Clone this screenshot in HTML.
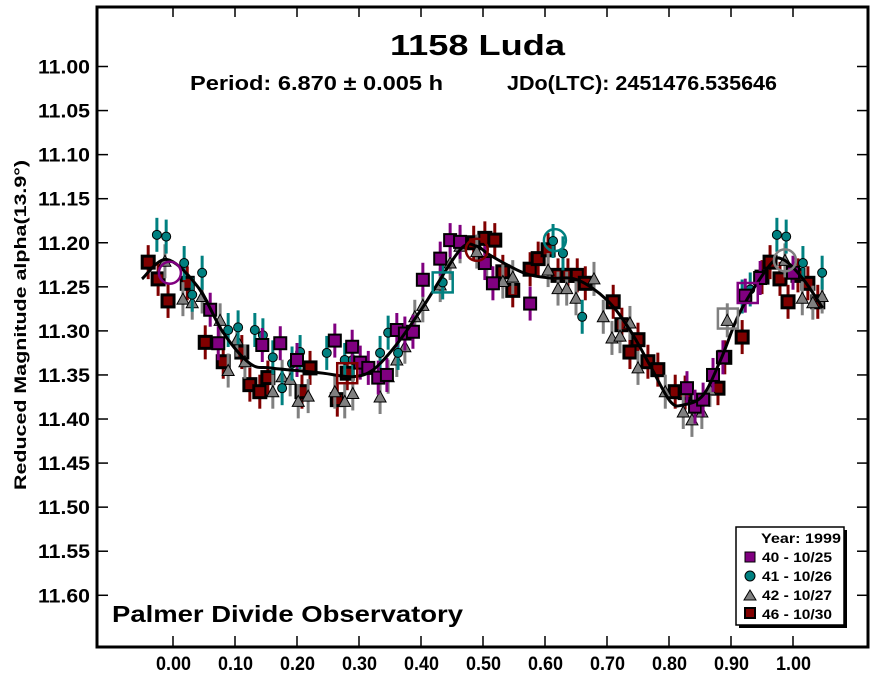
<!DOCTYPE html>
<html><head><meta charset="utf-8"><style>
body{margin:0;background:#fff}
svg{display:block;font-family:"Liberation Sans",Arial,sans-serif;font-weight:bold}
</style></head><body>
<svg id="c" width="883" height="679" viewBox="0 0 883 679">
<rect x="0" y="0" width="883" height="679" fill="#fff"/>
<g id="marks"></g>
<rect x="97" y="7" width="771" height="640" fill="none" stroke="#000" stroke-width="3"/>
<g id="axes"></g>
<text x="390" y="55" font-size="29" textLength="175" lengthAdjust="spacingAndGlyphs">1158 Luda</text>
<text x="190" y="90" font-size="20" textLength="253" lengthAdjust="spacingAndGlyphs">Period: 6.870 ± 0.005 h</text>
<text x="507" y="90" font-size="20" textLength="270" lengthAdjust="spacingAndGlyphs">JDo(LTC): 2451476.535646</text>
<text transform="translate(26,490) rotate(-90)" font-size="17" textLength="330" lengthAdjust="spacingAndGlyphs">Reduced Magnitude alpha(13.9°)</text>
<text x="112" y="622" font-size="23" textLength="351" lengthAdjust="spacingAndGlyphs">Palmer Divide Observatory</text>
<g>
<rect x="739" y="530" width="108" height="98" fill="#000"/>
<rect x="736" y="527" width="108" height="98" fill="#fff" stroke="#000" stroke-width="1.5"/>
<text x="761" y="543" font-size="14" textLength="80" lengthAdjust="spacingAndGlyphs">Year: 1999</text>
<rect x="745" y="552" width="10" height="10" fill="#800080" stroke="#000"/>
<text x="762" y="562" font-size="14" textLength="70" lengthAdjust="spacingAndGlyphs">40 - 10/25</text>
<circle cx="750" cy="576" r="5" fill="#008080" stroke="#000"/>
<text x="762" y="581" font-size="14" textLength="70" lengthAdjust="spacingAndGlyphs">41 - 10/26</text>
<polygon points="750,590 756,600 744,600" fill="#808080" stroke="#000"/>
<text x="762" y="600" font-size="14" textLength="70" lengthAdjust="spacingAndGlyphs">42 - 10/27</text>
<rect x="745" y="608" width="10" height="10" fill="#800000" stroke="#000" stroke-width="2"/>
<text x="762" y="619" font-size="14" textLength="70" lengthAdjust="spacingAndGlyphs">46 - 10/30</text>
</g>
</svg>
<script>
const xTicks=[0,0.1,0.2,0.3,0.4,0.5,0.6,0.7,0.8,0.9,1.0];
const yTicks=[11.00,11.05,11.10,11.15,11.20,11.25,11.30,11.35,11.40,11.45,11.50,11.55,11.60];
const s40Phase=[0.060,0.073,0.144,0.173,0.200,0.261,0.289,0.302,0.315,0.331,0.345,0.361,0.374,0.387,0.403,0.431,0.447,0.463,0.503,0.516,0.576,0.829,0.842,0.855,0.871,0.887,0.923,0.947,1.000];
const s40Mag=[11.276,11.314,11.316,11.314,11.333,11.311,11.318,11.336,11.342,11.353,11.350,11.299,11.303,11.301,11.242,11.218,11.197,11.199,11.223,11.246,11.269,11.365,11.386,11.378,11.350,11.330,11.260,11.240,11.234];
const s41Phase=[-0.026,-0.011,0.018,0.047,0.031,0.089,0.105,0.132,0.145,0.161,0.176,0.192,0.205,0.248,0.277,0.290,0.334,0.347,0.363,0.435,0.613,0.629,0.660,0.918,0.931,0.974,0.989,1.016,1.047];
const s41Mag=[11.191,11.193,11.223,11.234,11.259,11.299,11.296,11.299,11.305,11.330,11.365,11.337,11.324,11.325,11.333,11.333,11.325,11.302,11.325,11.245,11.198,11.212,11.284,11.261,11.253,11.191,11.193,11.223,11.234];
const s42Phase=[-0.013,0.016,0.031,0.047,0.076,0.089,0.103,0.116,0.161,0.176,0.189,0.202,0.218,0.261,0.277,0.290,0.334,0.347,0.361,0.374,0.390,0.403,0.431,0.447,0.463,0.490,0.506,0.532,0.548,0.605,0.621,0.635,0.650,0.679,0.694,0.708,0.721,0.737,0.750,0.794,0.823,0.837,0.853,0.866,0.894,0.987,1.015,1.032,1.047];
const s42Mag=[11.221,11.264,11.268,11.261,11.288,11.345,11.310,11.335,11.369,11.352,11.355,11.380,11.374,11.369,11.380,11.371,11.375,11.352,11.333,11.318,11.284,11.271,11.248,11.223,11.204,11.210,11.223,11.244,11.239,11.231,11.252,11.252,11.263,11.241,11.284,11.308,11.306,11.291,11.342,11.369,11.392,11.401,11.392,11.367,11.288,11.220,11.263,11.268,11.261];
const s46Phase=[-0.040,-0.024,-0.008,0.023,0.052,0.081,0.111,0.124,0.140,0.153,0.208,0.221,0.265,0.281,0.485,0.503,0.519,0.532,0.548,0.576,0.589,0.605,0.621,0.637,0.652,0.665,0.710,0.724,0.737,0.750,0.766,0.782,0.810,0.826,0.879,0.890,0.918,0.950,0.963,0.979,0.992,1.008,1.024,1.040];
const s46Mag=[11.222,11.241,11.266,11.246,11.313,11.335,11.324,11.361,11.369,11.353,11.369,11.342,11.378,11.348,11.200,11.195,11.197,11.233,11.254,11.230,11.218,11.208,11.237,11.237,11.237,11.246,11.267,11.293,11.324,11.310,11.335,11.344,11.369,11.370,11.365,11.330,11.307,11.239,11.222,11.241,11.267,11.237,11.246,11.267];
const fitPhase=[-0.05,-0.01,0.04,0.081,0.124,0.156,0.20,0.242,0.29,0.323,0.36,0.403,0.463,0.49,0.511,0.565,0.608,0.652,0.70,0.737,0.77,0.802,0.823,0.855,0.885,0.915,0.963,0.984,1.015,1.048];
const fitMag=[11.241,11.219,11.250,11.302,11.337,11.342,11.345,11.348,11.352,11.344,11.316,11.273,11.208,11.204,11.214,11.234,11.240,11.242,11.265,11.299,11.340,11.380,11.384,11.373,11.330,11.278,11.225,11.219,11.240,11.274];
const openPhase=[-0.005,0.281,0.435,0.490,0.616,0.895,0.927,0.987];
const openMag=[11.234,11.348,11.245,11.208,11.197,11.286,11.257,11.220];
const openShape=['circle','square','square','circle','circle','square','square','circle'];
const openColor=['#800080','#800000','#008080','#800000','#008080','#808080','#800080','#808080'];

const X=p=>173+p*620;
const Y=m=>66.5+(m-11)*881.3;
const NS='http://www.w3.org/2000/svg';
const marks=document.getElementById('marks'), axes=document.getElementById('axes');
function mk(tag,attrs,parent){const e=document.createElementNS(NS,tag);for(const k in attrs)e.setAttribute(k,attrs[k]);parent.appendChild(e);return e;}

xTicks.forEach(t=>{
  const x=X(t);
  const a=mk('line',{x1:x,x2:x,y1:647,y2:636,stroke:'#000','stroke-width':1.5},axes);
  
  
  const b=mk('line',{x1:x,x2:x,y1:7,y2:17,stroke:'#000','stroke-width':1.5},axes);
  
  
  const l=mk('text',{x:x-17,y:670,'font-size':19,textLength:35,lengthAdjust:'spacingAndGlyphs'},axes);
  l.textContent=t.toFixed(2);
  
  
});
yTicks.forEach(t=>{
  const y=Y(t);
  const a=mk('line',{x1:97,x2:108,y1:y,y2:y,stroke:'#000','stroke-width':1.5},axes);
  
  
  const b=mk('line',{x1:857,x2:868,y1:y,y2:y,stroke:'#000','stroke-width':1.5},axes);
  
  
  const l=mk('text',{x:38,y:y+7,'font-size':19,textLength:52,lengthAdjust:'spacingAndGlyphs'},axes);
  l.textContent=t.toFixed(2);
  
  
});

function series(ph,mg,color,shape,name){
  const g=mk('g',{},marks);
  
  
  ph.forEach((p,i)=>{
    const x=X(p),y=Y(mg[i]);
    const e=mk('line',{x1:x,x2:x,y1:y-17,y2:y+17,stroke:color,'stroke-width':3},g);
    
    
    let m;
    if(shape==='square') m=mk('rect',{x:x-6,y:y-6,width:12,height:12,fill:color,stroke:'#000','stroke-width':2},g);
    else if(shape==='dsquare') m=mk('rect',{x:x-6,y:y-6,width:12,height:12,fill:color,stroke:'#000','stroke-width':3},g);
    else if(shape==='circle') m=mk('circle',{cx:x,cy:y,r:4.5,fill:color,stroke:'#000','stroke-width':1},g);
    else m=mk('polygon',{points:`${x},${y-6} ${x+6},${y+5} ${x-6},${y+5}`,fill:color,stroke:'#000','stroke-width':1},g);
    
    
  });
}
series(s46Phase,s46Mag,'#800000','dsquare','series-46');
series(s42Phase,s42Mag,'#808080','tri','series-42');
series(s41Phase,s41Mag,'#008080','circle','series-41');
series(s40Phase,s40Mag,'#800080','square','series-40');

const pts=fitPhase.map((p,i)=>[X(p),Y(fitMag[i])]);
let d=`M${pts[0][0]},${pts[0][1]}`;
for(let i=0;i<pts.length-1;i++){
  const p0=pts[Math.max(0,i-1)],p1=pts[i],p2=pts[i+1],p3=pts[Math.min(pts.length-1,i+2)];
  const c1=[p1[0]+(p2[0]-p0[0])/6,p1[1]+(p2[1]-p0[1])/6];
  const c2=[p2[0]-(p3[0]-p1[0])/6,p2[1]-(p3[1]-p1[1])/6];
  d+=` C${c1[0]},${c1[1]} ${c2[0]},${c2[1]} ${p2[0]},${p2[1]}`;
}
const fc=mk('path',{d:d,fill:'none',stroke:'#000','stroke-width':3},marks);



openPhase.forEach((p,i)=>{
  const x=X(p),y=Y(openMag[i]);
  let m;
  if(openShape[i]==='circle') m=mk('circle',{cx:x,cy:y,r:11,fill:'none',stroke:openColor[i],'stroke-width':2.5},marks);
  else m=mk('rect',{x:x-10,y:y-10,width:20,height:20,fill:'none',stroke:openColor[i],'stroke-width':2.5},marks);
  
  
});
</script>
</body></html>
